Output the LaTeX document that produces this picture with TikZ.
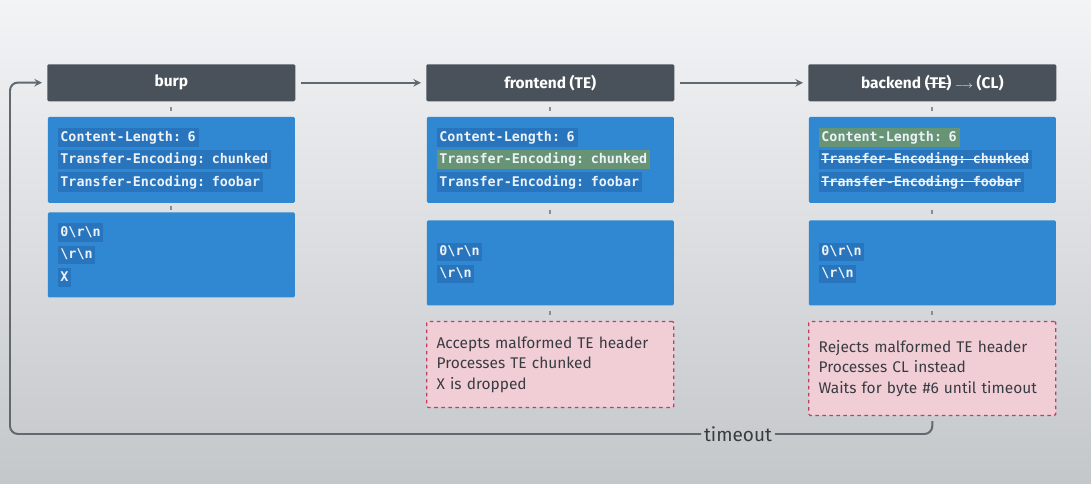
\documentclass[tikz,border=0pt]{standalone}
\usepackage{fontspec}
\setmainfont{Fira Sans}
\setmonofont{DejaVu Sans Mono}
\usetikzlibrary{positioning}

\definecolor{bgtop}{RGB}{243,244,246}
\definecolor{bgmid}{RGB}{233,235,237}
\definecolor{bgbot}{RGB}{196,199,202}
\definecolor{hdrgray}{RGB}{73,82,90}
\definecolor{blockblue}{RGB}{48,135,210}
\definecolor{hlblue}{RGB}{40,117,190}
\definecolor{hlgreen}{RGB}{104,148,118}
\definecolor{codewhite}{RGB}{236,242,248}
\definecolor{notepink}{RGB}{241,206,213}
\definecolor{notered}{RGB}{190,62,100}
\definecolor{notetext}{RGB}{56,60,66}
\definecolor{linegray}{RGB}{96,104,112}
\definecolor{tickgray}{RGB}{135,141,147}

\setlength\fboxsep{2pt}
\newcommand\hl[2][hlblue]{\colorbox{#1}{\vphantom{Tg}#2}}
\newsavebox\strkbox
\newcommand\strk[2][2.9pt]{\sbox\strkbox{#2}\rlap{\rule[#1]{\wd\strkbox}{0.6pt}}\usebox\strkbox}

\begin{document}
\begin{tikzpicture}[x=0.025cm,y=-0.025cm]
\tikzstyle{hdr}=[fill=hdrgray,text=white,font=\fontsize{11}{13}\selectfont\bfseries,minimum width=6.2cm,minimum height=0.925cm,inner sep=0pt,rounded corners=1pt,anchor=north west]
\tikzstyle{blk}=[fill=blockblue,text=codewhite,font=\ttfamily\bfseries\fontsize{9.5}{16}\selectfont,text width=161.7pt,align=left,inner xsep=7pt,inner ysep=0pt,minimum height=2.15cm,rounded corners=1pt]
\tikzstyle{note}=[fill=notepink,draw=notered,dash pattern=on 2.5pt off 2.5pt,line width=0.9pt,text=notetext,font=\fontsize{11}{14.6}\selectfont,text width=161.7pt,align=left,inner xsep=7pt,inner ysep=0pt,minimum height=2.15cm,rounded corners=1pt]
\tikzstyle{tick}=[draw=tickgray,line width=1.3pt,shorten >=0.14cm,shorten <=0.14cm]
\tikzstyle{link}=[draw=linegray,line width=1.4pt,>=stealth]

%% backdrop
\shade[top color=bgtop,middle color=bgmid,bottom color=bgbot] (0,0) rectangle (1091,484);
\useasboundingbox (0,0) rectangle (1091,484);

%% the three hops
\node[hdr] (burp) at (47,64) {burp};
\node[hdr] (front) at (426,64) {frontend (TE)};
\node[hdr] (back) at (808,64) {backend \strk[3.4pt]{(TE)} {\scriptsize$\longrightarrow$} (CL)};

%% burp
\node[blk,below=0.375cm of burp] (burphead) {\hl{Content-Length: 6}\\ \hl{Transfer-Encoding: chunked}\\ \hl{Transfer-Encoding: foobar}};
\node[blk,below=0.225cm of burphead,minimum height=2.125cm] (burpbody) {\hl{0\textbackslash r\textbackslash n}\\ \hl{\textbackslash r\textbackslash n}\\ \hl{X}};

%% frontend
\node[blk,below=0.375cm of front] (fronthead) {\hl{Content-Length: 6}\\ \hl[hlgreen]{Transfer-Encoding: chunked}\\ \hl{Transfer-Encoding: foobar}};
\node[blk,below=0.425cm of fronthead,minimum height=2.125cm] (frontbody) {\hl{0\textbackslash r\textbackslash n}\\ \hl{\textbackslash r\textbackslash n}};
\node[note,below=0.375cm of frontbody] (frontnote) {Accepts malformed TE header\\ Processes TE chunked\\ X is dropped};

%% backend
\node[blk,below=0.375cm of back] (backhead) {\hl[hlgreen]{Content-Length: 6}\\ \hl{\strk{Transfer-Encoding: chunked}}\\ \hl{\strk{Transfer-Encoding: foobar}}};
\node[blk,below=0.425cm of backhead,minimum height=2.125cm] (backbody) {\hl{0\textbackslash r\textbackslash n}\\ \hl{\textbackslash r\textbackslash n}};
\node[note,below=0.375cm of backbody,minimum height=2.35cm] (backnote) {Rejects malformed TE header\\ Processes CL instead\\ Waits for byte \#6 until timeout};

%% ticks
\draw[tick] (burp) -- (burphead);
\draw[tick,shorten >=0.06cm,shorten <=0.06cm] (burphead) -- (burpbody);
\draw[tick] (front) -- (fronthead);
\draw[tick,shorten >=0.16cm,shorten <=0.16cm] (fronthead) -- (frontbody);
\draw[tick] (frontbody) -- (frontnote);
\draw[tick] (back) -- (backhead);
\draw[tick,shorten >=0.16cm,shorten <=0.16cm] (backhead) -- (backbody);
\draw[tick] (backbody) -- (backnote);

%% forward
\draw[link,->,shorten >=0.125cm,shorten <=0.125cm] (burp) -- (front);
\draw[link,->,shorten >=0.125cm,shorten <=0.125cm] (front) -- (back);

%% timeout loop
\node[text=notetext,font=\fontsize{13.5}{16}\selectfont,inner sep=2pt] (tmo) at (738,434) {timeout};
\coordinate (ret) at (10,82.5);
\draw[link,rounded corners=0.2cm,shorten <=0.125cm] (backnote.south) |- (tmo.east);
\draw[link,->,rounded corners=0.2cm,shorten >=0.125cm] (tmo.west) -| (ret) -- (burp.west);

\end{tikzpicture}
\end{document}
